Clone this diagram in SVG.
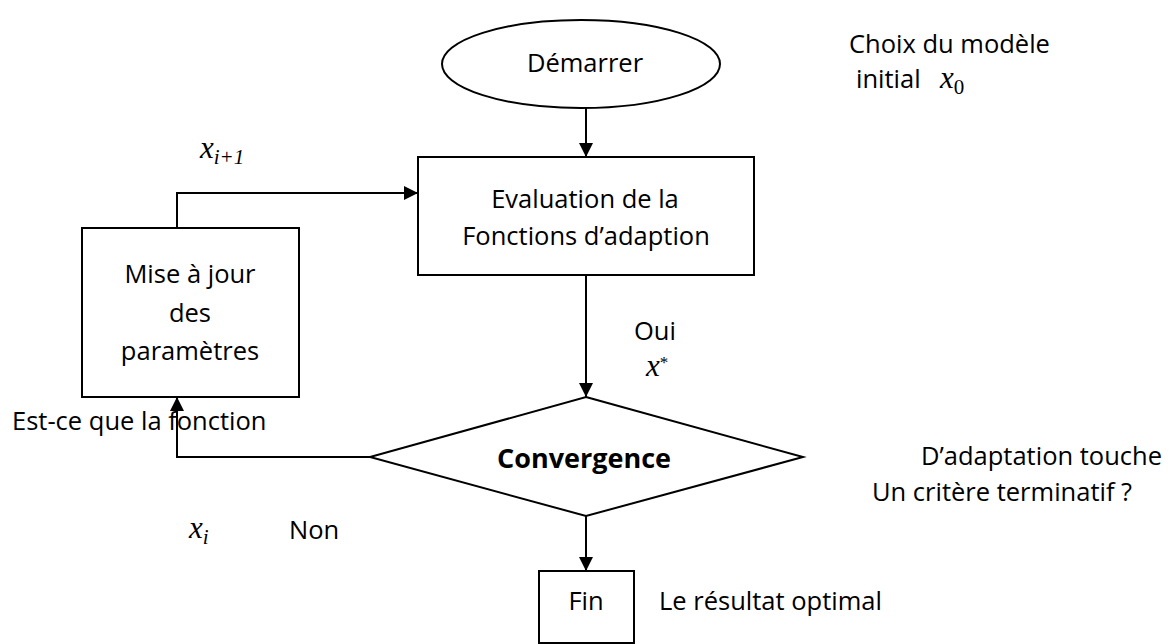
<svg xmlns="http://www.w3.org/2000/svg" width="1170" height="644" viewBox="0 0 1170 644">
  <style>
    .shape { fill: #ffffff; stroke: #000000; stroke-width: 2; }
    .conn { fill: none; stroke: #000000; stroke-width: 2; }
    .t { font-family: "Open Sans", "Liberation Sans", sans-serif; font-size: 25.5px; fill: #000000; }
    .c { text-anchor: middle; }
    .b { font-weight: bold; font-size: 27px; }
    .m { font-family: "Liberation Serif", "DejaVu Serif", serif; font-style: italic; font-size: 31px; fill: #000000; }
    .sub { font-style: italic; font-size: 21px; }
    .sub0 { font-style: normal; font-size: 21px; }
    .sup { font-style: normal; font-size: 17px; }
  </style>
  <defs>
    <marker id="arrow" markerUnits="userSpaceOnUse" markerWidth="14" markerHeight="14" refX="14" refY="7" orient="auto">
      <path d="M0,0 L14,7 L0,14 z" fill="#000000"/>
    </marker>
  </defs>
  <rect width="1170" height="644" fill="#ffffff"/>

  <g id="connectors">
    <line class="conn" x1="586" y1="108" x2="586" y2="157" marker-end="url(#arrow)"/>
    <path class="conn" d="M177,228 V193 H418" marker-end="url(#arrow)"/>
    <line class="conn" x1="586" y1="275" x2="586" y2="397" marker-end="url(#arrow)"/>
    <path class="conn" d="M370,457 H177 V397" marker-end="url(#arrow)"/>
    <line class="conn" x1="586" y1="516" x2="586" y2="571" marker-end="url(#arrow)"/>
  </g>

  <g id="start">
    <ellipse class="shape" cx="581" cy="64" rx="139" ry="44"/>
    <text class="t c" x="585" y="72">Démarrer</text>
  </g>

  <g id="evaluation">
    <rect class="shape" x="418" y="157" width="336" height="118"/>
    <text class="t c" x="585" y="208">Evaluation de la</text>
    <text class="t c" x="586" y="245">Fonctions d’adaption</text>
  </g>

  <g id="update">
    <rect class="shape" x="82" y="228" width="217" height="169"/>
    <text class="t c" x="190" y="283">Mise à jour</text>
    <text class="t c" x="190" y="322">des</text>
    <text class="t c" x="190" y="360">paramètres</text>
  </g>

  <g id="convergence">
    <polygon class="shape" points="586,397 803,457 586,516 370,457"/>
    <text class="t c b" x="584" y="468">Convergence</text>
  </g>

  <g id="end">
    <rect class="shape" x="539" y="571" width="95" height="72"/>
    <text class="t c" x="586" y="610">Fin</text>
  </g>

  <g id="labels">
    <text class="t" x="849" y="53">Choix du modèle</text>
    <text class="t" x="856" y="88">initial</text>
    <text class="m" x="940" y="88">x<tspan class="sub0" dy="6">0</tspan></text>
    <text class="m" x="200" y="158">x<tspan class="sub" dy="6">i+1</tspan></text>
    <text class="t" x="12" y="430">Est-ce que la fonction</text>
    <text class="t" x="634" y="340">Oui</text>
    <text class="m" x="646" y="376">x<tspan class="sup" dy="-8">*</tspan></text>
    <text class="t" x="921" y="465">D’adaptation touche</text>
    <text class="t" x="872" y="501">Un critère terminatif ?</text>
    <text class="m" x="189" y="538">x<tspan class="sub" dy="6">i</tspan></text>
    <text class="t" x="289" y="539">Non</text>
    <text class="t" x="659" y="610">Le résultat optimal</text>
  </g>
</svg>
